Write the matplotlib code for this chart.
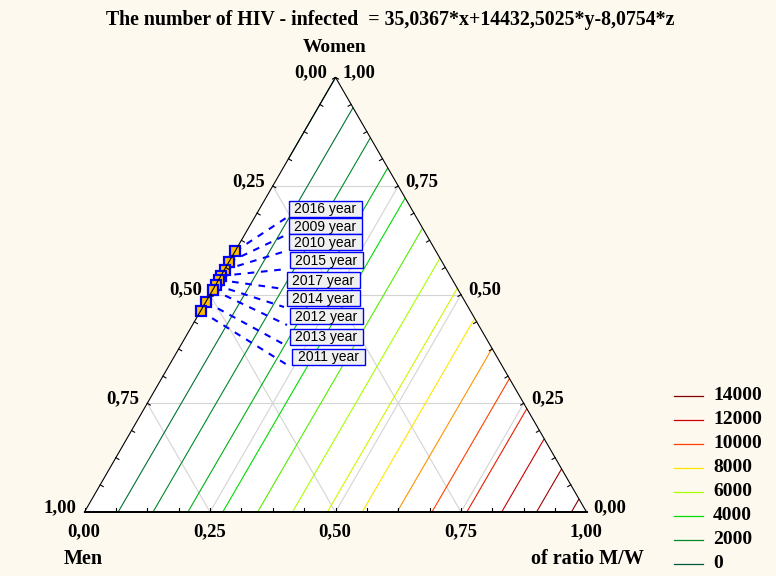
import numpy as np
import matplotlib
matplotlib.use('Agg')
import matplotlib.pyplot as plt
import matplotlib.tri as mtri
from matplotlib.colors import LinearSegmentedColormap
from matplotlib.patches import Polygon, Rectangle

# surface: number of HIV-infected = a*x + b*y + c*z
coef_men, coef_ratio, coef_women = 35.0367, 14432.5025, -8.0754
levels = np.arange(0, 14001, 1000)
legend_levels = [14000, 12000, 10000, 8000, 6000, 4000, 2000, 0]
level_colors = ['#005a3c', '#008a28', '#00dd00', '#aaff00', '#ffe800', '#ff4000', '#cc0000', '#800000']

# observations (shares), ordered as the labels are stacked
years = ['2016', '2009', '2010', '2015', '2017', '2014', '2012', '2013', '2011']
women = np.array([0.600, 0.575, 0.557, 0.543, 0.534, 0.522, 0.511, 0.483, 0.462])
ratio = np.array([0.0006, 0.0006, 0.0006, 0.0006, 0.0006, 0.0006, 0.0006, 0.0006, 0.0006])
men = 1 - women - ratio

tick_vals = [0.0, 0.25, 0.5, 0.75, 1.0]
tick_text = ['0,00', '0,25', '0,50', '0,75', '1,00']

H = np.sqrt(3) / 2
W_PX, H_PX = 776, 576


def tern(r, w):
    # ternary (ratio, women) -> cartesian
    r = np.asarray(r, float)
    w = np.asarray(w, float)
    return r + 0.5 * w, w * H


fig = plt.figure(figsize=(W_PX / 100, H_PX / 100), dpi=100)
fig.patch.set_facecolor('#fef9ee')
ax = fig.add_axes([84.5 / W_PX, 64 / H_PX, 502 / W_PX, 434.7 / H_PX])
ax.set_xlim(0, 1)
ax.set_ylim(0, H)
ax.axis('off')

corners = np.array([[0, 0], [1, 0], [0.5, H]])
ax.add_patch(Polygon(corners, closed=True, facecolor='white', edgecolor='none', zorder=0))

# grid lines
for v in [0.25, 0.5, 0.75]:
    for (r0, w0), (r1, w1) in [((0, v), (1 - v, v)),
                               ((v, 0), (v, 1 - v)),
                               ((1 - v, 0), (0, 1 - v))]:
        xs, ys = tern([r0, r1], [w0, w1])
        ax.plot(xs, ys, color='#d4d4d4', lw=0.8, zorder=1)

# contour lines of the linear surface
n = 40
rr, ww = [], []
for i in range(n + 1):
    for j in range(n + 1 - i):
        rr.append(i / n)
        ww.append(j / n)
rr = np.array(rr)
ww = np.array(ww)
mm = 1 - rr - ww
ff = coef_men * mm + coef_ratio * rr + coef_women * ww
gx, gy = tern(rr, ww)
tri = mtri.Triangulation(gx, gy)
cmap = LinearSegmentedColormap.from_list('hiv', list(zip(np.linspace(0, 1, 8), level_colors)))
ax.tricontour(tri, ff, levels=levels, colors=[cmap(l / 14000) for l in levels],
              linewidths=0.8, zorder=2)

# edges and ticks
ax.plot([0, 1, 0.5, 0], [0, 0, H, 0], color='black', lw=0.8, zorder=6, clip_on=False)
ax.plot([0, 1], [0, 0], color='black', lw=1.4, zorder=6, clip_on=False)
tl = 0.007
for k in range(17):
    t = k / 16
    ax.plot([t, t], [0, tl], color='black', lw=0.8, zorder=6)
    x0, y0 = tern(0, t)
    ax.plot([x0, x0 + tl * H], [y0, y0 - tl * 0.5], color='black', lw=0.8, zorder=6)
    x1, y1 = tern(1 - t, t)
    ax.plot([x1, x1 - tl * H], [y1, y1 - tl * 0.5], color='black', lw=0.8, zorder=6)

# tick labels
lab = dict(fontsize=13.5, fontweight='bold', family='Liberation Serif',
           textcoords='offset pixels', annotation_clip=False)
for v, s in zip(tick_vals, tick_text):
    # Men axis (left edge)
    ax.annotate(s, tern(0, 1 - v), xytext=(-8, 4.5), ha='right', va='center', **lab)
    # Women axis (right edge)
    ax.annotate(s, tern(1 - v, v), xytext=(7, 4.5), ha='left', va='center', **lab)
    # ratio axis (bottom)
    ax.annotate(s, tern(v, 0), xytext=(-0.5, -20), ha='center', va='center', **lab)

# observations
px, py = tern(ratio, women)
ax.plot(px, py, 's', ms=7.5, mfc='#ffc000', mec='#0000ff', mew=1.6, zorder=5, ls='none')

# overlay in pixel coordinates for labels and legend
ov = fig.add_axes([0, 0, 1, 1])
ov.set_xlim(0, W_PX)
ov.set_ylim(H_PX, 0)
ov.axis('off')

box_left = [289, 289, 289, 290, 287, 287, 290, 290, 292]
box_top = [201, 218, 234, 252, 272, 290, 308, 329, 349]
box_w, box_h = 73, 16
inv = ax.transData.inverted()
for k, yr in enumerate(years):
    bx, by = box_left[k], box_top[k]
    ex, ey = inv.transform((bx - 3, H_PX - (by + box_h + 1)))
    ax.plot([px[k], ex], [py[k], ey], color='#0000ff', lw=1.5,
            ls=(0, (3.2, 3.2)), zorder=4, clip_on=False)
    ov.add_patch(Rectangle((bx, by), box_w, box_h, facecolor='#f0f0f0',
                           edgecolor='#0000ff', lw=1.0, zorder=7))
    ov.text(bx + box_w / 2, by + box_h / 2 + 0.5, yr + ' year', ha='center', va='center',
            fontsize=10, family='Liberation Sans', zorder=8)

# legend
for k, lv in enumerate(legend_levels):
    yy = 395.5 + 24 * k
    ov.plot([674, 703], [yy, yy], color=cmap(lv / 14000), lw=0.9)
    ov.text(713, yy, str(lv), ha='left', va='center', fontsize=14,
            fontweight='bold', family='Liberation Serif')

# titles
ttl = dict(fontweight='bold', family='Liberation Serif')
ov.text(390, 20, 'The number of HIV - infected  = 35,0367*x+14432,5025*y-8,0754*z',
        ha='center', va='center', fontsize=14.3, **ttl)
ov.text(335, 47, 'Women', ha='center', va='center', fontsize=14, **ttl)
ov.text(83, 559, 'Men', ha='center', va='center', fontsize=14.5, **ttl)
ov.text(587, 559, 'of ratio M/W', ha='center', va='center', fontsize=14.5, **ttl)

fig.savefig('out.png', dpi=100, facecolor=fig.get_facecolor())
